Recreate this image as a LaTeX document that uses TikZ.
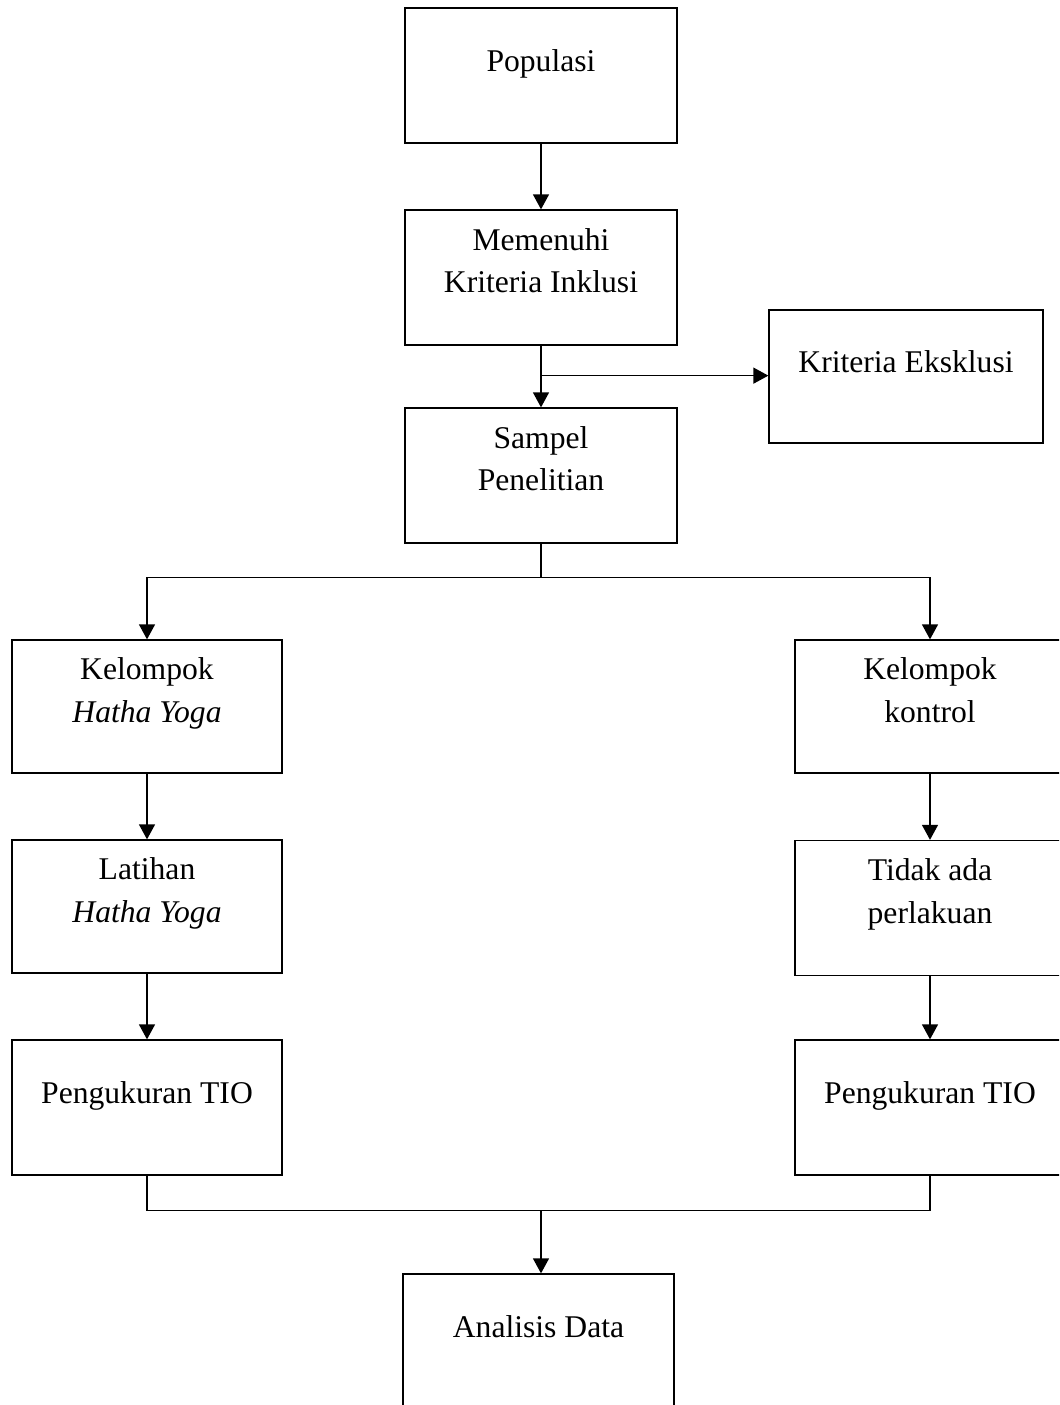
\documentclass[tikz,border=0pt]{standalone}
\usepackage{fontspec}
\setmainfont{Liberation Serif}
\usepackage{tikz}
\usetikzlibrary{positioning,calc,arrows.meta}

\tikzset{
    box/.style={draw, line width=0.75pt, minimum width=5.44cm, minimum height=2.7cm,
        align=center, font=\fontsize{18}{24.4}\selectfont, text height=0.44cm, text depth=0.59cm},
    twoline/.style={text height=1.3cm, text depth=0.68cm},
    arr/.style={-{Triangle[length=0.3cm,width=0.32cm]}, line width=0.75pt},
    link/.style={line width=0.75pt}
}

\begin{document}
\begin{tikzpicture}[x=0.02cm, y=-0.02cm]
    \clip (0,0) rectangle (1059,1405);

    % Main column
    \node[box] (populasi) at (541,75.5) {Populasi};
    \node[box, twoline] (inklusi) at (541,277.5) {Memenuhi\\Kriteria Inklusi};
    \node[box, minimum width=5.48cm, minimum height=2.66cm] (eksklusi) at (906,376.5) {Kriteria Eksklusi};
    \node[box, twoline] (sampel) at (541,475.5) {Sampel\\Penelitian};

    % Hatha Yoga group
    \node[box, twoline, minimum width=5.4cm, minimum height=2.66cm] (kelyoga) at (147,706.5) {Kelompok\\\textit{Hatha Yoga}};
    \node[box, twoline, minimum width=5.4cm, minimum height=2.66cm] (latihan) at (147,906.5) {Latihan\\\textit{Hatha Yoga}};
    \node[box, minimum width=5.4cm] (ukuryoga) at (147,1107.5) {Pengukuran TIO};

    % Control group
    \node[box, twoline, minimum width=5.4cm, minimum height=2.66cm] (kelkontrol) at (930,706.5) {Kelompok\\kontrol};
    \node[box, twoline, minimum width=5.4cm] (tidakada) at (930,908) {Tidak ada\\perlakuan};
    \node[box, minimum width=5.4cm] (ukurkontrol) at (930,1107.5) {Pengukuran TIO};

    % Analysis
    \node[box, minimum width=5.42cm] (analisis) at (538.5,1341.5) {Analisis Data};

    % Arrows
    \draw[arr] (populasi) -- (inklusi);
    \draw[arr] (inklusi) -- (sampel);
    \coordinate (cabang) at ($(inklusi.south)+(0,30)$);
    \draw[arr] (cabang) -- (cabang -| eksklusi.west);

    \draw[link] (sampel.south) -- ++(0,34) coordinate (bagi);
    \draw[arr] (bagi) -| (kelyoga.north);
    \draw[arr] (bagi) -| (kelkontrol.north);

    \draw[arr] (kelyoga) -- (latihan);
    \draw[arr] (latihan) -- (ukuryoga);
    \draw[arr] (kelkontrol) -- (tidakada);
    \draw[arr] (tidakada) -- (ukurkontrol);

    \draw[link] (ukuryoga.south) -- ++(0,35) coordinate (gabung) -| (ukurkontrol.south);
    \coordinate (tengah) at (541,1210);
    \draw[arr] (tengah) -- (tengah |- analisis.north);
\end{tikzpicture}
\end{document}
